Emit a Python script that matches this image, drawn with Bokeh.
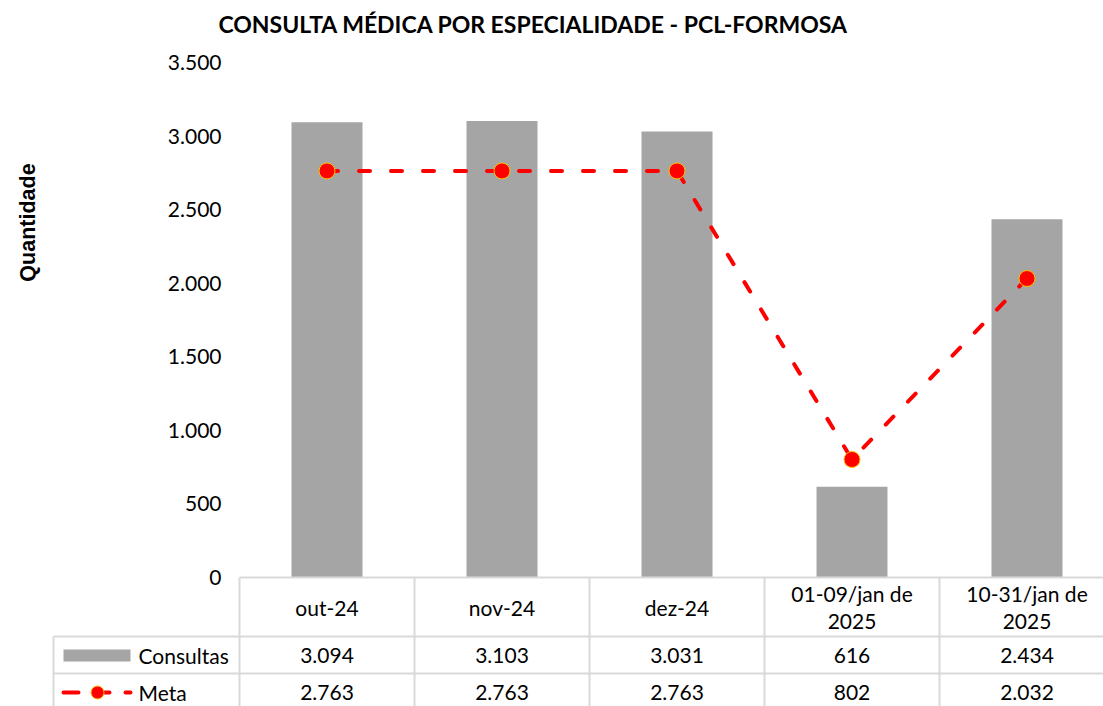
import math
from bokeh.plotting import figure
from bokeh.models import Range1d
from bokeh.core.properties import value
from bokeh.embed import file_html
from bokeh.resources import INLINE

# ---- data ----
categories = ["out-24", "nov-24", "dez-24", "01-09/jan de\n2025", "10-31/jan de\n2025"]
consultas = [3094, 3103, 3031, 616, 2434]
meta = [2763, 2763, 2763, 802, 2032]
y_ticks = [0, 500, 1000, 1500, 2000, 2500, 3000, 3500]
series_names = ["Consultas", "Meta"]

title_text = "CONSULTA MÉDICA POR ESPECIALIDADE - PCL-FORMOSA"
y_title = "Quantidade"


def fmt(v):
    return f"{v:,}".replace(",", ".")


FONT = "Lato"
GRAY = "#a5a5a5"
RED = "#ff0000"
GRID = "#d9d9d9"
TXT = "#000000"

W, H = 1103, 706
COL_PX = 175.0          # pixels per category column
X0_PX = 326.5           # page x of first category centre
Y0_PX = 577.0           # page y of value 0
YTOP_PX = 62.0          # page y of 3500
YMAX = 3500.0
UPP = YMAX / (Y0_PX - YTOP_PX)   # data units per pixel (vertical)


def px_x(px):
    return (px - X0_PX) / COL_PX


def px_y(py):
    return (Y0_PX - py) * UPP


xs = list(range(len(categories)))

p = figure(width=W, height=H, output_backend="svg", toolbar_location=None,
           x_range=Range1d(px_x(0), px_x(W)), y_range=Range1d(px_y(H), px_y(0)),
           min_border=0, min_border_left=0, min_border_right=0,
           min_border_top=0, min_border_bottom=0)
p.outline_line_color = None
p.grid.visible = False
p.axis.visible = False

# ---- chart marks ----
p.vbar(x=xs, top=consultas, width=71 / COL_PX, fill_color=GRAY, line_color=None)
p.line(x=xs, y=meta, line_color=RED, line_width=4, line_dash="11 21", line_cap="round")
p.scatter(x=xs, y=meta, size=16, marker="circle", fill_color=RED,
          line_color="#ffc000", line_width=1)

# ---- y tick labels ----
p.text(x=[px_x(221)] * len(y_ticks), y=y_ticks, text=[fmt(t) for t in y_ticks],
       text_font=value(FONT), text_font_size="21px", text_align="right",
       text_baseline="middle", text_color=TXT)

# ---- titles ----
p.text(x=[px_x(533)], y=[px_y(23)], text=[title_text], text_font=value(FONT),
       text_font_style="bold", text_font_size="23px", text_align="center",
       text_baseline="middle", text_color=TXT)
p.text(x=[px_x(27)], y=[px_y(222)], text=[y_title], angle=math.pi / 2,
       text_font=value("Liberation Sans"), text_font_style="bold",
       text_font_size="21.5px", text_align="center", text_baseline="middle",
       text_color=TXT)

# ---- data table ----
left = px_x(53)
right = px_x(W)
y_hdr_bot = px_y(636)
y_row_bot = px_y(673)
y_bottom = px_y(H)
vx = [i - 0.5 for i in range(len(categories) + 1)]
p.segment(x0=vx, y0=[y_bottom] * len(vx), x1=vx, y1=[0] * len(vx),
          line_color=GRID, line_width=2)
p.segment(x0=[left, left, left, -0.5], y0=[y_bottom, y_hdr_bot, y_row_bot, 0],
          x1=[left, right, right, right], y1=[y_hdr_bot, y_hdr_bot, y_row_bot, 0],
          line_color=GRID, line_width=2)

p.text(x=xs, y=[px_y(606.5)] * len(xs), text=categories, text_font=value(FONT),
       text_font_size="21px", text_align="center", text_baseline="middle",
       text_color=TXT, text_line_height=1.07)
p.text(x=xs, y=[px_y(655)] * len(xs), text=[fmt(v) for v in consultas],
       text_font=value(FONT), text_font_size="21px", text_align="center",
       text_baseline="middle", text_color=TXT)
p.text(x=xs, y=[px_y(692)] * len(xs), text=[fmt(v) for v in meta],
       text_font=value(FONT), text_font_size="21px", text_align="center",
       text_baseline="middle", text_color=TXT)

# legend keys in the table
p.quad(left=[px_x(63)], right=[px_x(130)], bottom=[px_y(661)], top=[px_y(649)],
       fill_color=GRAY, line_color=None)
p.line(x=[px_x(63), px_x(130)], y=[px_y(692)] * 2, line_color=RED, line_width=4,
       line_dash="15 16", line_cap="round")
p.scatter(x=[px_x(97)], y=[px_y(692)], size=13, marker="circle", fill_color=RED,
          line_color="#ffc000", line_width=1)
p.text(x=[px_x(138)] * 2, y=[px_y(655), px_y(692)], text=series_names,
       text_font=value(FONT), text_font_size="21px", text_align="left",
       text_baseline="middle", text_color=TXT)

open("out.html", "w").write(file_html(p, INLINE))
